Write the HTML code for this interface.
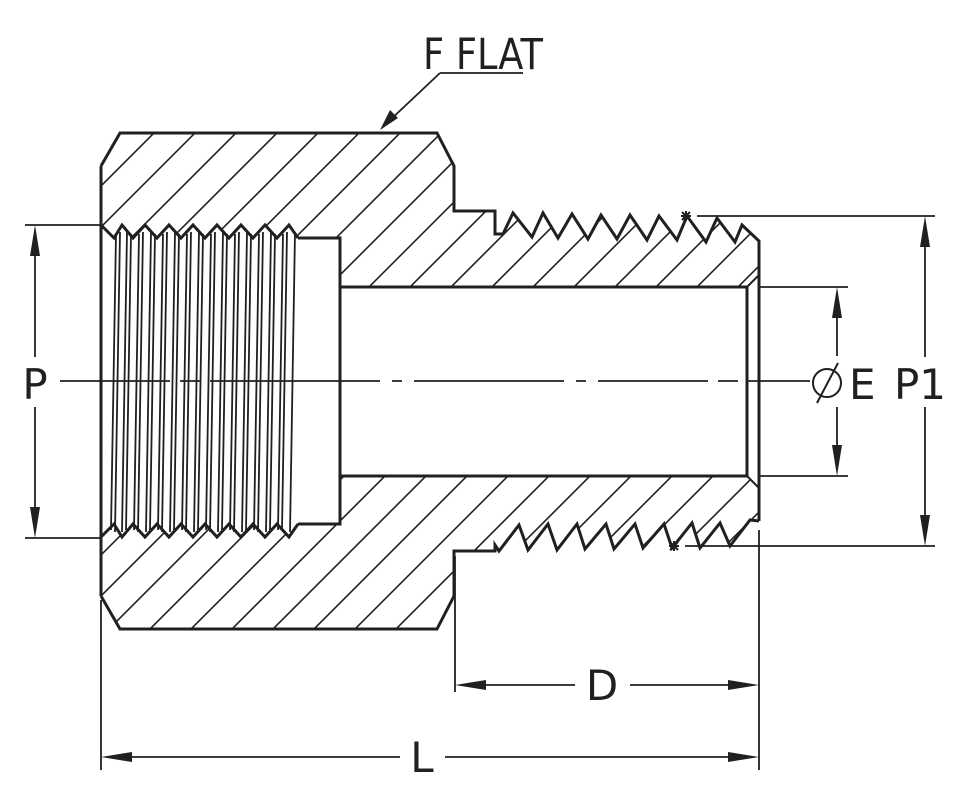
<!DOCTYPE html>
<html><head><meta charset="utf-8"><style>
html,body{margin:0;padding:0;background:#fff;}
svg{display:block;}
text{font-family:"DejaVu Sans","Liberation Sans",sans-serif;fill:#231f20;}
</style></head><body>
<svg width="967" height="799" viewBox="0 0 967 799" xmlns="http://www.w3.org/2000/svg">
<defs>
<pattern id="h" patternUnits="userSpaceOnUse" width="41" height="41">
<path d="M-5,46 L46,-5 M-5,5 L5,-5 M36,46 L46,36" stroke="#231f20" stroke-width="1.6"/>
</pattern>
</defs>
<g stroke="#231f20" fill="none" stroke-linejoin="miter">
<path fill="url(#h)" stroke="none" d="M120,133 L437,133 L454,166 L454,211 L495,211 L495,234 L503,234 L513,213 L532,237 L543,213 L558,238 L572,214 L588,239 L601,215 L617,239 L630,215 L647,240 L659,216 L677,240 L687,216 L706,242 L717,218 L735,242 L742,225 L759,241 L759,275 L747,287 L340,287 L340,238 L298,238 L289,225 L277,238 L265,225 L253,238 L241,225 L229,238 L217,225 L205,238 L193,225 L181,238 L169,225 L157,238 L145,225 L133,238 L122,225 L114,238 L101,225 L101,166 Z"/>
<path fill="url(#h)" stroke="none" d="M120,629 L437,629 L454,596 L454,551 L495,551 L495,545 L499,551 L519,525 L528,550 L548,524 L557,550 L577,524 L585,549 L606,524 L614,549 L635,524 L643,548 L664,524 L672,548 L692,523 L700,548 L720,523 L730,546 L750,520 L759,521 L759,488 L747,476 L340,476 L340,524 L298,524 L289,537 L277,524 L265,537 L253,524 L241,537 L229,524 L217,537 L205,524 L193,537 L181,524 L169,537 L157,524 L145,537 L133,524 L122,537 L114,524 L101,537 L101,596 Z"/>
<g stroke-width="3">
<path d="M101,166 L120,133 L437,133 L454,166 L454,211 L495,211 L495,234 L503,234 L513,213 L532,237 L543,213 L558,238 L572,214 L588,239 L601,215 L617,239 L630,215 L647,240 L659,216 L677,240 L687,216 L706,242 L717,218 L735,242 L742,225 L759,241 L759,521"/>
<path d="M101,596 L120,629 L437,629 L454,596 L454,551 L495,551 L495,545 L499,551 L519,525 L528,550 L548,524 L557,550 L577,524 L585,549 L606,524 L614,549 L635,524 L643,548 L664,524 L672,548 L692,523 L700,548 L720,523 L730,546 L750,520 L759,521"/>
<path d="M101,166 L101,596"/>
<path d="M298,238 L340,238 L340,524 L298,524"/>
<path d="M340,287 L747,287 L747,476 L340,476"/>
<path d="M101,225 L114,238 L122,225 L133,238 L145,225 L157,238 L169,225 L181,238 L193,225 L205,238 L217,225 L229,238 L241,225 L253,238 L265,225 L277,238 L289,225 L298,238"/>
<path d="M101,537 L114,524 L122,537 L133,524 L145,537 L157,524 L169,537 L181,524 L193,537 L205,524 L217,537 L229,524 L241,537 L253,524 L265,537 L277,524 L289,537 L298,524"/>
</g>
<path stroke-width="2" d="M747,287 L759,275 M747,476 L759,488"/>
<g stroke-width="1.8">
<path d="M116,234 L111,530 M127,232 L122,532 M139,234 L134,530 M151,232 L146,532 M163,234 L158,530 M175,232 L170,532 M187,234 L182,530 M199,232 L194,532 M211,234 L206,530 M223,232 L218,532 M235,234 L230,530 M247,232 L242,532 M259,234 L254,530 M271,232 L266,532 M283,234 L278,530 M295,232 L290,532"/>
<path d="M120,232 L115,532 M131,234 L126,530 M143,232 L138,532 M155,234 L150,530 M167,232 L162,532 M179,234 L174,530 M191,232 L186,532 M203,234 L198,530 M215,232 L210,532 M227,234 L222,530 M239,232 L234,532 M251,234 L246,530 M263,232 L258,532 M275,234 L270,530 M287,232 L282,530"/>
</g>
<path stroke-width="1.8" d="M60,381 L810,381" stroke-dasharray="110 10 20 10 170 12 10 12 150 12 10 12"/>
<g stroke-width="1.8">
<path d="M25,225 L101,225 M25,538 L101,538 M35,235 L35,357 M35,407 L35,528"/>
<path d="M697,216 L935,216 M685,546 L935,546 M925,226 L925,357 M925,407 L925,535"/>
<path d="M760,287 L848,287 M760,476 L848,476 M837,297 L837,356 M837,407 L837,466"/>
<path d="M455,556 L455,692 M759,530 L759,770 M101,600 L101,770"/>
<path d="M465,685 L575,685 M630,685 L749,685 M111,757 L400,757 M445,757 L749,757"/>
<path d="M440,73 L523,73 M440,73 L388,122"/>
</g>
<!-- stars -->
<g stroke-width="2">
<path d="M681,216 L691,216 M686,211 L686,221 M682,212 L690,220 M690,212 L682,220"/>
<path d="M669,546 L679,546 M674,541 L674,551 M670,542 L678,550 M678,542 L670,550"/>
</g>
</g>
<g fill="#231f20">
<path d="M35,225 L30,256 L40,256 Z M35,538 L30,507 L40,507 Z"/>
<path d="M925,216 L920,247 L930,247 Z M925,546 L920,515 L930,515 Z"/>
<path d="M837,287 L832,318 L842,318 Z M837,476 L832,445 L842,445 Z"/>
<path d="M455,685 L486,680 L486,690 Z M759,685 L728,680 L728,690 Z"/>
<path d="M101,757 L132,752 L132,762 Z M759,757 L728,752 L728,762 Z"/>
<path d="M380,130 L390,110 L398,118 Z"/>
</g>
<text x="423" y="69" font-size="43" textLength="120" lengthAdjust="spacingAndGlyphs">F FLAT</text>
<text x="35" y="399" font-size="42" text-anchor="middle">P</text>
<text x="602" y="700" font-size="42" text-anchor="middle">D</text>
<text x="422" y="772" font-size="42" text-anchor="middle">L</text>
<text x="920" y="399" font-size="42" text-anchor="middle">P1</text>
<text x="849" y="399" font-size="42">E</text>
<g stroke="#231f20" stroke-width="2" fill="none">
<circle cx="827" cy="383" r="14"/>
<path d="M817,403 L838,363"/>
</g>
</svg>
</body></html>
